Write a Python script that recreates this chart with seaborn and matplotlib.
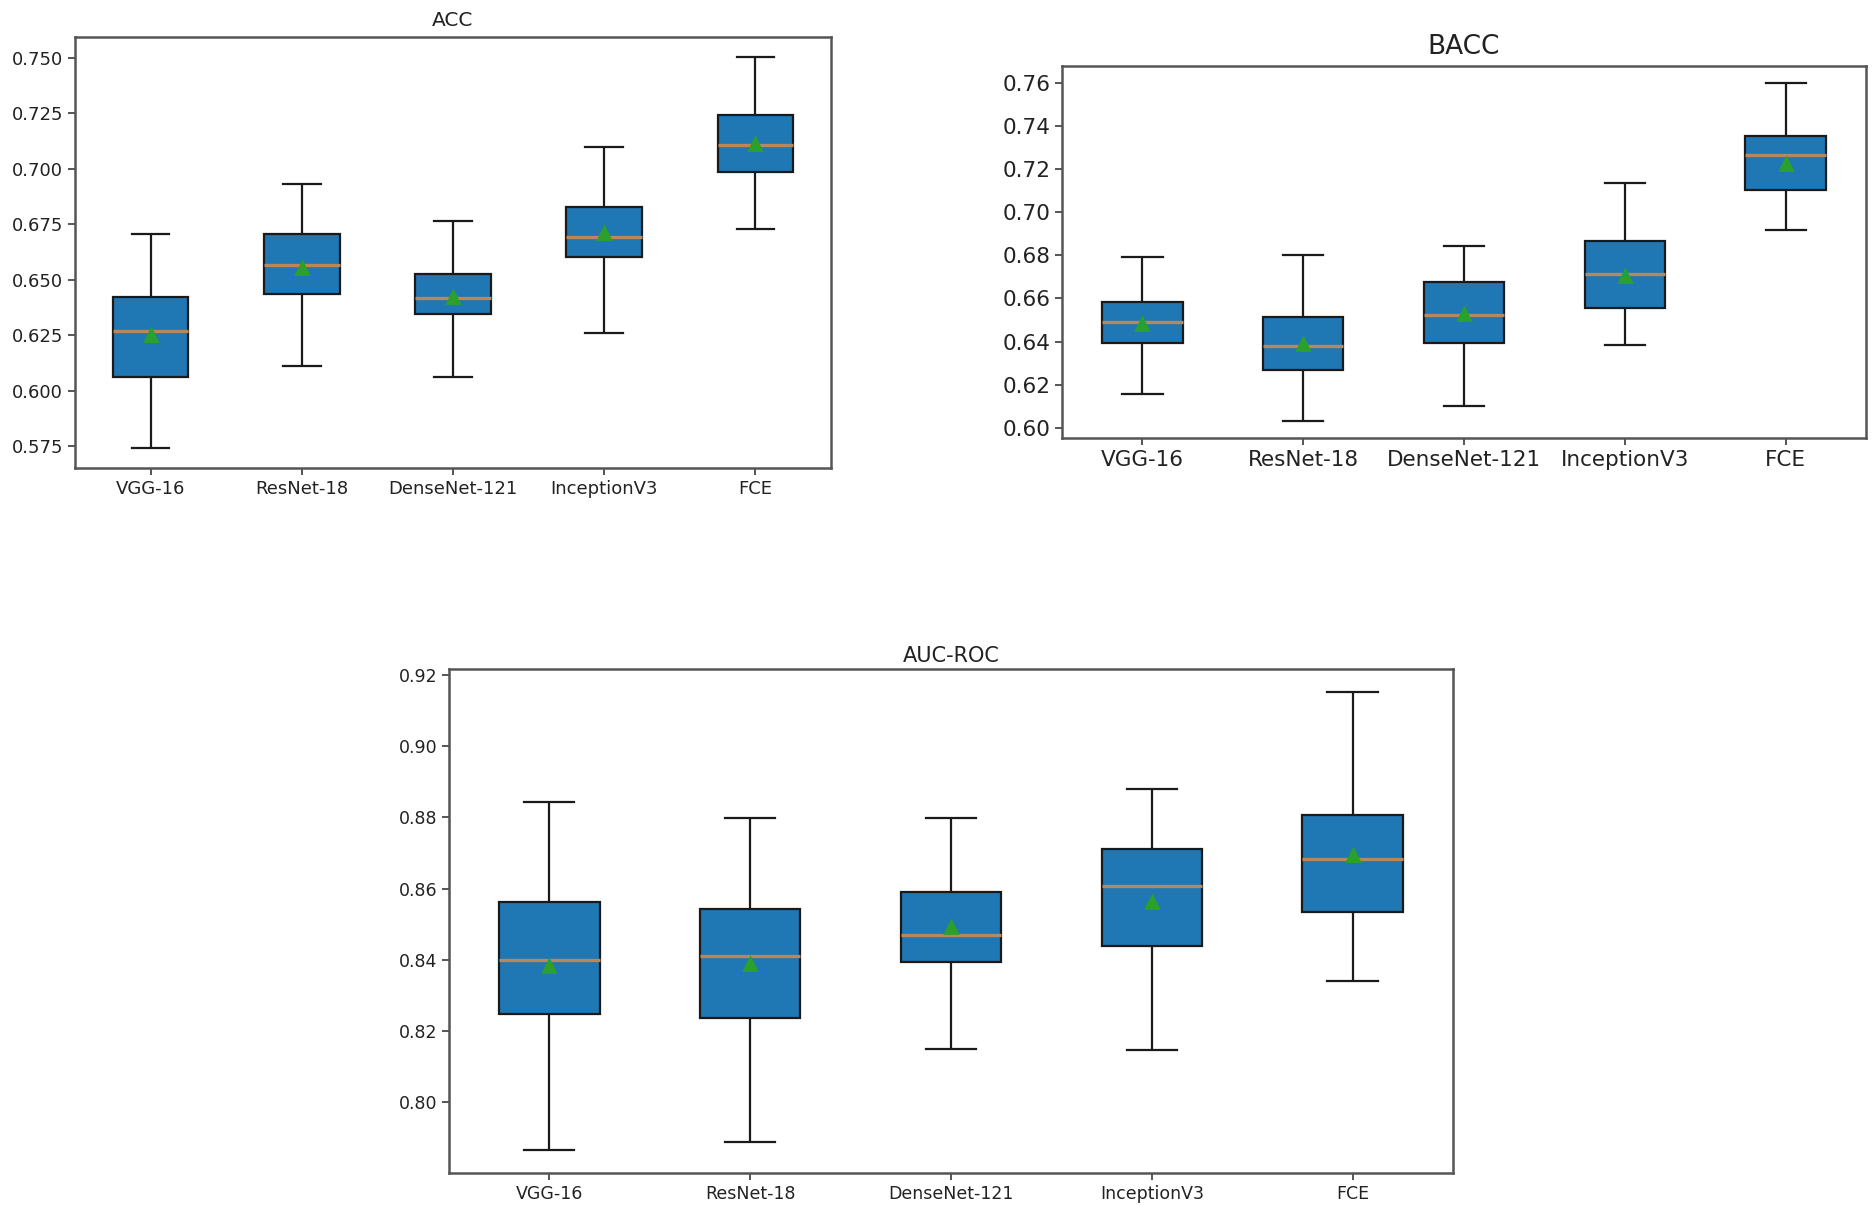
import matplotlib
matplotlib.use('Agg')

import numpy as np
import pandas as pd
import matplotlib.pyplot as plt
from matplotlib.ticker import MultipleLocator
import seaborn as sns

models = ["VGG-16", "ResNet-18", "DenseNet-121", "InceptionV3", "FCE"]

# whisker low, Q1, median, Q3, whisker high, mean
acc_low = [0.574, 0.611, 0.606, 0.626, 0.673]
acc_q1 = [0.606, 0.6435, 0.6345, 0.660, 0.6986]
acc_med = [0.6267, 0.6564, 0.6417, 0.6691, 0.7107]
acc_q3 = [0.6424, 0.6704, 0.6525, 0.6829, 0.7244]
acc_high = [0.6704, 0.6929, 0.6764, 0.7098, 0.7505]
acc_mean = [0.6252, 0.6552, 0.642, 0.6709, 0.7113]

bacc_low = [0.6157, 0.6031, 0.610, 0.6385, 0.6917]
bacc_q1 = [0.6392, 0.6268, 0.6392, 0.6554, 0.7102]
bacc_med = [0.6492, 0.638, 0.6522, 0.6714, 0.7265]
bacc_q3 = [0.6582, 0.6514, 0.6675, 0.6865, 0.7352]
bacc_high = [0.6791, 0.680, 0.6842, 0.7137, 0.760]
bacc_mean = [0.648, 0.6388, 0.6526, 0.6706, 0.7226]

auc_low = [0.7866, 0.7889, 0.815, 0.8148, 0.834]
auc_q1 = [0.8248, 0.8238, 0.8393, 0.844, 0.8535]
auc_med = [0.8399, 0.8411, 0.8469, 0.8608, 0.8682]
auc_q3 = [0.8561, 0.8543, 0.859, 0.8711, 0.8806]
auc_high = [0.8842, 0.8798, 0.8798, 0.888, 0.9152]
auc_mean = [0.8383, 0.8388, 0.8493, 0.8561, 0.8695]

W, H = 1874, 1206


def to_frame(low, q1, med, q3, high):
    rows = []
    for i, m in enumerate(models):
        for v in (low[i], q1[i], med[i], q3[i], high[i]):
            rows.append((m, v))
    return pd.DataFrame(rows, columns=["model", "value"])


def axes_px(fig, left, top, right, bottom):
    return fig.add_axes([left / W, 1 - bottom / H, (right - left) / W, (bottom - top) / H])


def panel(ax, stats, means, title, tsize, fsize, tpad, step):
    df = to_frame(*stats)
    sns.boxplot(data=df, x="model", y="value", order=models, ax=ax,
                color="#1f77b4", saturation=1, width=0.5, whis=np.inf,
                linecolor="#1a1a1a", linewidth=1.6,
                medianprops={"color": "#b8875a", "linewidth": 2.4})
    sns.pointplot(x=models, y=means, ax=ax, color="#2ca02c", marker="^",
                  linestyle="none", errorbar=None, markersize=8, zorder=6)
    ax.set_xlabel("")
    ax.set_ylabel("")
    ax.set_xlim(-0.5, 4.5)
    ax.yaxis.set_major_locator(MultipleLocator(step))
    ax.set_title(title, fontsize=tsize, pad=tpad, color="#222222")
    ax.tick_params(labelsize=fsize, colors="#555555", labelcolor="#222222",
                   width=1.4, length=5)
    for s in ax.spines.values():
        s.set_color("#555555")
        s.set_linewidth(1.8)


fig = plt.figure(figsize=(W / 100, H / 100), dpi=100)

ax1 = axes_px(fig, 75, 37, 831, 468)
panel(ax1, (acc_low, acc_q1, acc_med, acc_q3, acc_high), acc_mean,
      "ACC", 14.5, 13, 8, 0.025)

ax2 = axes_px(fig, 1062, 66, 1866, 438)
panel(ax2, (bacc_low, bacc_q1, bacc_med, bacc_q3, bacc_high), bacc_mean,
      "BACC", 19, 15.5, 9, 0.02)

ax3 = axes_px(fig, 449, 669, 1453, 1173)
panel(ax3, (auc_low, auc_q1, auc_med, auc_q3, auc_high), auc_mean,
      "AUC-ROC", 15, 12.5, 5, 0.02)

fig.savefig("out.png", dpi=100)
